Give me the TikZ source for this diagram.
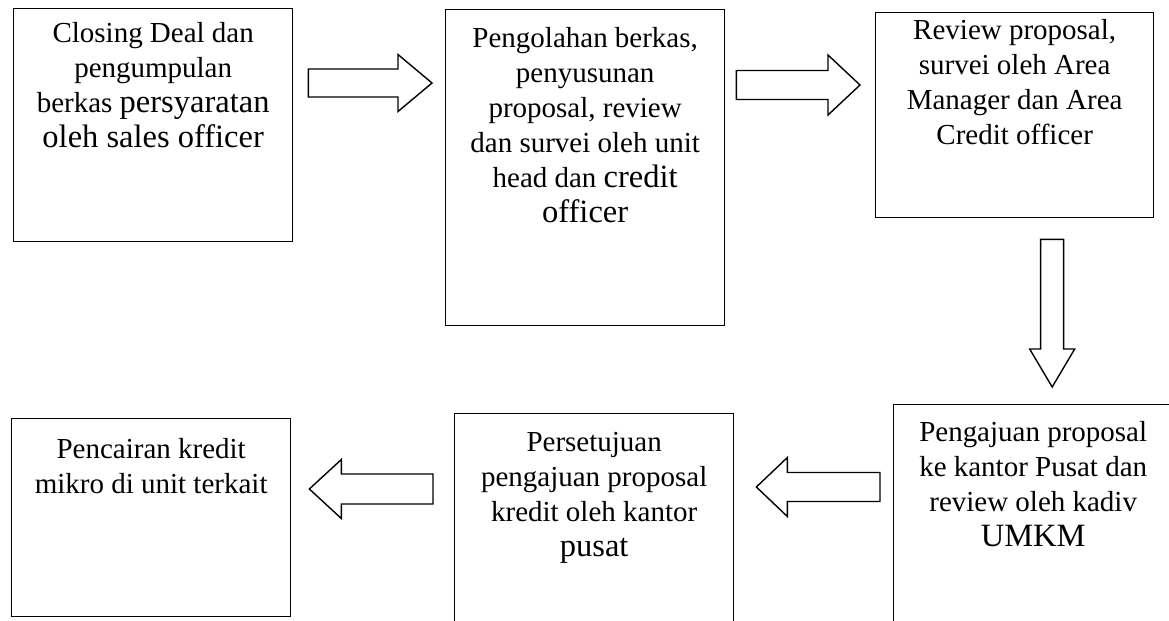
\documentclass[tikz,border=0pt]{standalone}
\usepackage{fontspec}
\setmainfont{Liberation Serif}
\usetikzlibrary{positioning, calc}

\newcommand{\bigw}[1]{{\fontsize{18.5}{19.9}\selectfont #1}}
% hollow block arrow: tail, tip, shaft half width, head half width, head length
\newcommand{\blockarrow}[5]{%
  \coordinate (tip) at (#2);
  \coordinate (hb) at ($(#2)!#5!(#1)$);
  \draw[arrowline] ($(#1)!#3!90:(#2)$) -- ($(hb)!#3!90:(tip)$) -- ($(hb)!#4!90:(tip)$) -- (tip)
    -- ($(hb)!#4!-90:(tip)$) -- ($(hb)!#3!-90:(tip)$) -- ($(#1)!#3!-90:(#2)$) -- cycle;}

\begin{document}
\begin{tikzpicture}[
    x=0.02cm, y=-0.02cm,
    font=\fontsize{16.5}{19.9}\selectfont,
    box/.style={draw, line width=0.8pt, minimum width=5.58cm, anchor=north west, inner sep=0pt},
    txt/.style={align=center, inner sep=0pt},
    arrowline/.style={draw, line width=0.8pt, line join=miter}
]
\useasboundingbox (0,0) rectangle (1169,620);

% Top row
\node[box, minimum height=4.66cm] (deal) at (13,8) {};
\node[box, minimum height=6.32cm] (processing) at (445,9) {};
\node[box, minimum width=5.56cm, minimum height=4.10cm] (area_review) at (875,12) {};

% Bottom row
\node[box, minimum height=4.6cm] (submission) at (893,404) {};
\node[box, minimum height=4.4cm] (approval) at (454,413) {};
\node[box, minimum height=3.96cm] (disbursement) at (11,418) {};

% Texts
\node[txt, below=0.28cm of deal.north] (deal_text) {Closing Deal dan\\pengumpulan\\berkas \bigw{persyaratan}\\\bigw{oleh sales officer}};
\node[txt, below=0.36cm of processing.north] (processing_text) {Pengolahan berkas,\\penyusunan\\proposal, review\\dan survei oleh unit\\head dan \bigw{credit}\\\bigw{officer}};
\node[txt, below=0.14cm of area_review.north] (area_text) {Review proposal,\\survei oleh Area\\Manager dan Area\\Credit officer};
\node[txt, below=0.34cm of submission.north] (submission_text) {Pengajuan proposal\\ke kantor Pusat dan\\review oleh kadiv\\\bigw{UMKM}};
\node[txt, below=0.38cm of approval.north] (approval_text) {Persetujuan\\pengajuan proposal\\kredit oleh kantor\\\bigw{pusat}};
\node[txt, below=0.4cm of disbursement.north] (disbursement_text) {Pencairan kredit\\mikro di unit terkait};

% Block arrows
\coordinate (deal_out) at ($(deal.north east)+(15,75)$);
\coordinate (processing_in) at ($(processing.north west)+(-13,74)$);
\coordinate (processing_out) at ($(processing.north east)+(11,76)$);
\coordinate (area_in) at ($(area_review.north west)+(-15,73)$);
\coordinate (area_out) at ($(area_review.south)+(37.5,21)$);
\coordinate (submission_in) at ($(submission.north)+(19,-17)$);
\coordinate (submission_out) at ($(submission.north west)+(-13,83)$);
\coordinate (approval_in) at ($(approval.north east)+(22,74)$);
\coordinate (approval_out) at ($(approval.north west)+(-21,76)$);
\coordinate (disbursement_in) at ($(disbursement.north east)+(18,71)$);

\blockarrow{deal_out}{processing_in}{0.28cm}{0.57cm}{0.68cm}
\blockarrow{processing_out}{area_in}{0.29cm}{0.6cm}{0.64cm}
\blockarrow{area_out}{submission_in}{0.23cm}{0.45cm}{0.76cm}
\blockarrow{submission_out}{approval_in}{0.29cm}{0.59cm}{0.62cm}
\blockarrow{approval_out}{disbursement_in}{0.30cm}{0.59cm}{0.64cm}

\end{tikzpicture}
\end{document}
